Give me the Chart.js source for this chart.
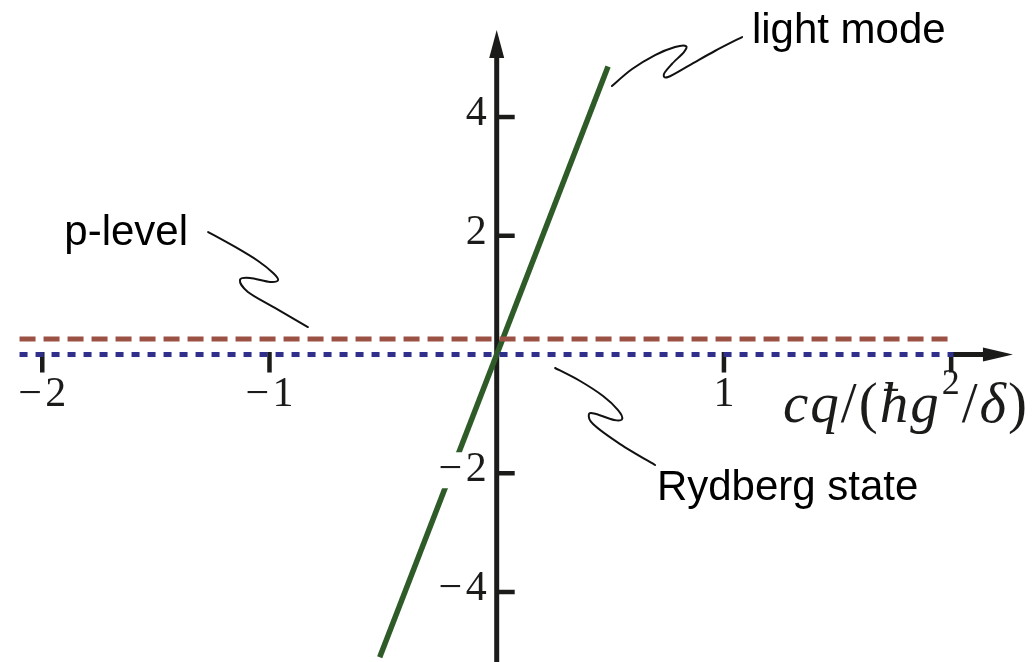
<!DOCTYPE html>
<html>
<head>
<meta charset="utf-8">
<script src="https://cdn.jsdelivr.net/npm/chart.js@4/dist/chart.umd.min.js"></script>
<style>
  html, body { margin: 0; padding: 0; background: #fff; }
  #wrap { position: relative; width: 1035px; height: 662px; }
</style>
</head>
<body>
<div id="wrap"><canvas id="chart"></canvas></div>
<script>
// Dispersion branches (x in units of hbar g^2 / delta)
const lightModeX = [-0.515, 0.49];
const lightModeY = [-5.1, 4.85];
const pLevelX = [-2.1, 1.99];
const pLevelY = [0.26, 0.26];
const rydbergX = [-2.1, 2.01];
const rydbergY = [0, 0];

// Axis ticks
const xTickValues = [-2, -1, 1, 2];
const xTickLabels = ['\u2212\u200a2', '\u2212\u200a1', '1', ''];
const yTickValues = [4, 2, -2, -4];
const yTickLabels = ['4', '2', '\u2212\u200a2', '\u2212\u200a4'];

// Visible window and axis arrow ends (data units)
const xRange = [-2.186, 2.369];
const yRange = [-5.179, 5.971];
const xArrowEnd = 2.272;
const yArrowEnd = 5.465;

// Callout labels: text, anchor (data units), and the wavy leader line
const callouts = [
  { text: 'light mode', x: 1.123, y: 5.25,
    path: [[0.507, 4.522], [0.596, 4.808], [0.697, 5.044], [0.785, 5.179], [0.833, 5.196],
           [0.824, 5.095], [0.771, 4.893], [0.736, 4.724], [0.754, 4.674], [0.850, 4.876],
           [0.960, 5.112], [1.080, 5.347]] },
  { text: 'p-level', x: -1.903, y: 1.84,
    path: [[-1.270, 2.063], [-1.151, 1.811], [-1.050, 1.575], [-0.984, 1.373], [-0.962, 1.255],
           [-0.998, 1.221], [-1.086, 1.289], [-1.130, 1.255], [-1.095, 1.053], [-0.976, 0.784],
           [-0.831, 0.463]] },
  { text: 'Rydberg state', x: 0.705, y: -2.45,
    path: [[0.257, -0.227], [0.367, -0.446], [0.468, -0.699], [0.534, -0.935], [0.552, -1.086],
           [0.517, -1.103], [0.437, -1.002], [0.406, -1.002], [0.424, -1.171], [0.543, -1.508],
           [0.697, -1.861]] }
];

const toPoints = (xs, ys) => xs.map((x, i) => ({ x, y: ys[i] }));
const INK = '#1b1b19';

function smoothPath(ctx, pts) {
  ctx.beginPath();
  ctx.moveTo(pts[0][0], pts[0][1]);
  for (let i = 0; i < pts.length - 1; i++) {
    const p0 = pts[Math.max(i - 1, 0)];
    const p1 = pts[i];
    const p2 = pts[i + 1];
    const p3 = pts[Math.min(i + 2, pts.length - 1)];
    ctx.bezierCurveTo(
      p1[0] + (p2[0] - p0[0]) / 6, p1[1] + (p2[1] - p0[1]) / 6,
      p2[0] - (p3[0] - p1[0]) / 6, p2[1] - (p3[1] - p1[1]) / 6,
      p2[0], p2[1]);
  }
  ctx.stroke();
}

const axesPlugin = {
  id: 'crossedAxes',
  beforeDatasetsDraw(chart) {
    const { ctx, scales: { x, y } } = chart;
    const x0 = x.getPixelForValue(0);
    const y0 = y.getPixelForValue(0);
    ctx.save();
    ctx.strokeStyle = INK;
    ctx.fillStyle = INK;
    ctx.lineWidth = 5;
    ctx.lineCap = 'butt';

    // vertical axis with arrow
    const yTip = y.getPixelForValue(yArrowEnd);
    ctx.beginPath();
    ctx.moveTo(x0, chart.height + 5);
    ctx.lineTo(x0, yTip + 20);
    ctx.stroke();
    ctx.beginPath();
    ctx.moveTo(x0, yTip);
    ctx.lineTo(x0 - 7.5, yTip + 28);
    ctx.lineTo(x0 + 7.5, yTip + 28);
    ctx.closePath();
    ctx.fill();

    // horizontal axis stub beyond the last tick, with arrow
    const xTip = x.getPixelForValue(xArrowEnd);
    const xLast = x.getPixelForValue(xTickValues[xTickValues.length - 1]);
    ctx.beginPath();
    ctx.moveTo(xLast - 2.5, y0);
    ctx.lineTo(xTip - 20, y0);
    ctx.stroke();
    ctx.beginPath();
    ctx.moveTo(xTip, y0);
    ctx.lineTo(xTip - 30, y0 - 7);
    ctx.lineTo(xTip - 30, y0 + 7);
    ctx.closePath();
    ctx.fill();

    // ticks
    ctx.lineWidth = 4.5;
    yTickValues.forEach(v => {
      const py = y.getPixelForValue(v);
      ctx.beginPath();
      ctx.moveTo(x0, py);
      ctx.lineTo(x0 + 18, py);
      ctx.stroke();
    });
    xTickValues.forEach(v => {
      const px = x.getPixelForValue(v);
      ctx.beginPath();
      ctx.moveTo(px, y0 - 2.5);
      ctx.lineTo(px, y0 + 18);
      ctx.stroke();
    });
    ctx.restore();
  },
  afterDatasetsDraw(chart) {
    const { ctx, scales: { x, y } } = chart;
    const x0 = x.getPixelForValue(0);
    const y0 = y.getPixelForValue(0);
    ctx.save();
    const serif = '"Liberation Serif", "DejaVu Serif", serif';
    const sans = '"Liberation Sans", Arial, sans-serif';

    // y tick labels on a white ground
    ctx.font = '42px ' + serif;
    ctx.textAlign = 'right';
    ctx.textBaseline = 'middle';
    yTickValues.forEach((v, i) => {
      const py = y.getPixelForValue(v) - 3;
      const w = ctx.measureText(yTickLabels[i]).width;
      ctx.fillStyle = '#fff';
      ctx.fillRect(x0 - 10 - w - 3, py - 18, w + 6, 36);
      ctx.fillStyle = INK;
      ctx.fillText(yTickLabels[i], x0 - 10, py);
    });

    // x tick labels
    ctx.textAlign = 'center';
    ctx.textBaseline = 'alphabetic';
    xTickValues.forEach((v, i) => {
      if (!xTickLabels[i]) return;
      ctx.fillText(xTickLabels[i], x.getPixelForValue(v), y0 + 51);
    });

    // axis title  cq/(ħg²/δ)
    const parts = [
      ['c', 'italic'], ['q', 'italic'], ['/', ''], ['(', ''], ['\u0127', 'italic'],
      ['g', 'italic'], ['2', 'sup'], ['/', ''], ['\u03b4', 'italic'], [')', '']
    ];
    let cx = x.getPixelForValue(1.26);
    const base = y0 + 67;
    ctx.textAlign = 'left';
    parts.forEach(([s, kind]) => {
      if (kind === 'sup') {
        ctx.font = '36px ' + serif;
        ctx.fillText(s, cx + 1, base - 28);
        cx += ctx.measureText(s).width + 3;
      } else {
        ctx.font = (kind ? 'italic ' : '') + '57px ' + serif;
        ctx.fillText(s, cx, base);
        cx += ctx.measureText(s).width + 2;
      }
    });

    // callouts
    ctx.font = '42px ' + sans;
    ctx.fillStyle = '#000';
    ctx.strokeStyle = '#111';
    ctx.lineWidth = 2;
    ctx.lineJoin = 'round';
    ctx.lineCap = 'round';
    callouts.forEach(c => {
      ctx.fillText(c.text, x.getPixelForValue(c.x), y.getPixelForValue(c.y));
      smoothPath(ctx, c.path.map(([px, py]) => [x.getPixelForValue(px), y.getPixelForValue(py)]));
    });
    ctx.restore();
  }
};

new Chart(document.getElementById('chart'), {
  type: 'scatter',
  data: {
    datasets: [
      { label: 'Rydberg state', data: toPoints(rydbergX, rydbergY), showLine: true,
        borderColor: '#2f2f8c', borderWidth: 5, borderDash: [8, 8], borderCapStyle: 'butt',
        pointRadius: 0, fill: false },
      { label: 'p-level', data: toPoints(pLevelX, pLevelY), showLine: true,
        borderColor: '#9b5244', borderWidth: 5, borderDash: [16, 8], borderCapStyle: 'butt',
        pointRadius: 0, fill: false },
      { label: 'light mode', data: toPoints(lightModeX, lightModeY), showLine: true,
        borderColor: '#2e5b28', borderWidth: 5.5, borderCapStyle: 'butt',
        pointRadius: 0, fill: false }
    ]
  },
  options: {
    responsive: true,
    maintainAspectRatio: false,
    animation: false,
    layout: { padding: 0 },
    plugins: { legend: { display: false }, tooltip: { enabled: false }, title: { display: false } },
    scales: {
      x: { type: 'linear', min: xRange[0], max: xRange[1], display: false },
      y: { type: 'linear', min: yRange[0], max: yRange[1], display: false }
    }
  },
  plugins: [axesPlugin]
});
</script>
</body>
</html>
